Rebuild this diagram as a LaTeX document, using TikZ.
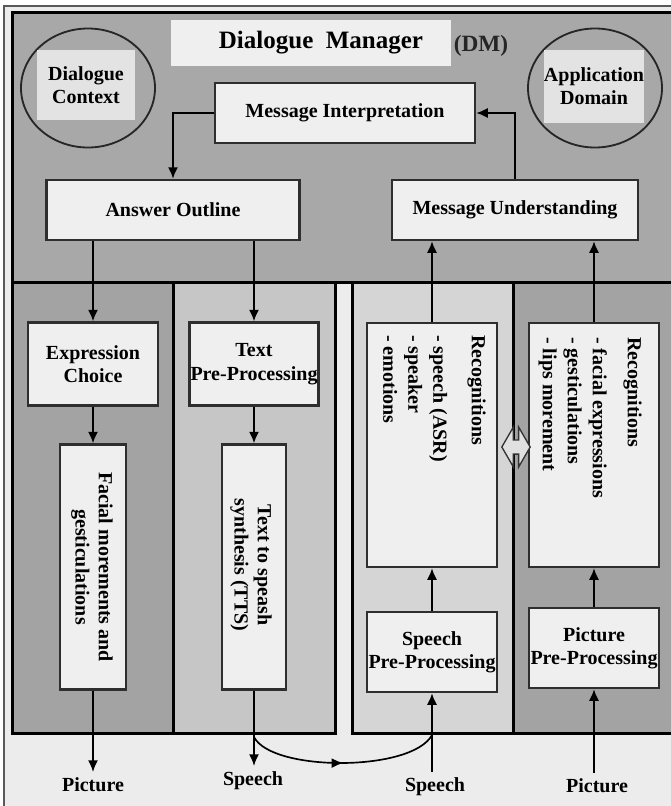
\documentclass[tikz,border=0pt]{standalone}
\usepackage{fontspec}
\setmainfont{Liberation Serif}
\usetikzlibrary{calc,positioning,shapes.geometric,shapes.arrows,decorations.markings,arrows.meta}
\definecolor{dmgray}{HTML}{A8A8A8}
\definecolor{lanedark}{HTML}{A3A3A3}
\definecolor{lanemid}{HTML}{C6C6C6}
\definecolor{lanelight}{HTML}{D5D5D5}
\definecolor{boxfill}{HTML}{EFEFEF}
\definecolor{stripfill}{HTML}{ECECEC}
\definecolor{edge}{HTML}{2E2E2E}

\begin{document}
\begin{tikzpicture}[x=0.6pt,y=-0.6pt,
    every node/.style={font=\fontsize{12}{14}\selectfont\bfseries},
    boxsize/.style 2 args={minimum width=#1*0.6pt,minimum height=#2*0.6pt},
    box/.style={draw=edge,line width=1.3pt,fill=boxfill,inner sep=0pt,align=center},
    vtext/.style={rotate=-90,inner sep=0pt},
    lane/.style={draw=black,line width=1.8pt},
    flow/.style={draw=black,line width=1.1pt,-{Latex[length=7pt,width=6pt]}},
    ring/.style={ellipse,draw=black!85,line width=1.1pt,fill=dmgray,inner sep=0pt},
    ringlabel/.style={fill=black!11,inner sep=0pt,align=center,font=\fontsize{12}{13.5}\selectfont\bfseries}]
  \fill[white] (0,0) rectangle (671,806);
  \useasboundingbox (0,0) rectangle (671,806);
  \clip (0,0) rectangle (671,806);

  % frame, manager area and the four lanes
  \filldraw[fill=stripfill,draw=black!65,line width=1pt] (4,6) rectangle (700,830);
  \filldraw[fill=dmgray,draw=black,line width=1.8pt] (12,12) rectangle (700,282);
  \filldraw[lane,fill=lanedark] (12,282) rectangle (173,733);
  \filldraw[lane,fill=lanemid] (173,282) rectangle (335,733);
  \filldraw[lane,fill=lanelight] (352,282) rectangle (513,733);
  \filldraw[lane,fill=lanedark] (513,282) rectangle (700,733);

  % Dialogue Manager
  \node[fill=boxfill,inner sep=0pt,boxsize={280}{46}] (dmbox) at (311,43) {};
  \node[font=\fontsize{15}{18}\selectfont\bfseries] (dmtitle) at (321,43) {Dialogue\ \ Manager};
  \node[font=\fontsize{14}{16}\selectfont\bfseries,text=black!85] (dmabbr) at (481,46) {(DM)};

  \node[ring,boxsize={134}{119}] (ctxring) at (88,88) {};
  \node[ringlabel,boxsize={98}{70}] (ctx) at (86,85) {Dialogue\\Context};
  \node[ring,boxsize={134}{119}] (domring) at (595,88) {};
  \node[ringlabel,boxsize={99}{73}] (dom) at (594,86) {Application\\Domain};

  \node[box,boxsize={260}{60}] (interp) at (345,113) {Message Interpretation};
  \node[box,boxsize={253}{60}] (answer) at (173,210) {Answer Outline};
  \node[box,boxsize={246}{60}] (underst) at (515,210) {Message Understanding};

  % output side
  \node[box,boxsize={130}{83}] (exprchoice) at (93,364) {Expression\\Choice};
  \node[box,boxsize={129}{83}] (textpre) at (254,364) {Text\\Pre-Processing};
  \node[box,boxsize={66}{245}] (facial) at (93,567) {};
  \node[vtext,align=center] (facialtext) at (92,567) {Facial morements and\\gesticulations};
  \node[box,boxsize={64}{245}] (tts) at (254,567) {};
  \node[vtext,align=center] (ttstext) at (251,565) {Text to speash\\synthesis (TTS)};

  % input side
  \node[box,boxsize={130}{244}] (recspeech) at (432,445) {};
  \node[vtext,anchor=north west,align=left,font=\fontsize{12}{15}\selectfont\bfseries]
    (recspeechtext) at (486,335) {Recognitions\\[8pt]- speech (ASR)\\- speaker\\- emotions};
  \node[box,boxsize={130}{244}] (recpicture) at (594,445) {};
  \node[vtext,anchor=north west,align=left,font=\fontsize{12}{15}\selectfont\bfseries]
    (recpicturetext) at (642,337) {Recognitions\\[6pt]- facial expressions\\- gesticulations\\- lips morement};
  \node[box,boxsize={130}{80}] (speechpre) at (432,652) {Speech\\Pre-Processing};
  \node[box,boxsize={130}{80}] (picturepre) at (594,648) {Picture\\Pre-Processing};
  \node[double arrow,draw=black!80,line width=0.8pt,fill=black!12,inner sep=3.5pt,
    minimum width=24pt,minimum height=17pt,double arrow tip angle=120] (exchange) at (516,447) {};

  \node (outpic) at (93,785) {Picture};
  \node (outspeech) at (253,781) {Speech};
  \node (inspeech) at (435,787) {Speech};
  \node (inpic) at (597,786) {Picture};

  % connectors
  \draw[flow] (interp.west) -| (answer.north);
  \draw[flow] (underst.north) |- (interp.east);
  \draw[flow] (answer.south -| exprchoice.north) -- (exprchoice.north);
  \draw[flow] (answer.south -| textpre.north) -- (textpre.north);
  \draw[flow] (exprchoice) -- (facial);
  \draw[flow] (textpre) -- (tts);
  \draw[flow] (facial) -- (outpic);
  \draw[flow] (tts.south) -- (tts.south |- outspeech.north);
  \draw[flow] (speechpre.south |- inspeech.north) -- (speechpre.south);
  \draw[flow] (speechpre) -- (recspeech);
  \draw[flow] (recspeech.north) -- (underst.south -| recspeech.north);
  \draw[flow] (picturepre.south |- inpic.north) -- (picturepre.south);
  \draw[flow] (picturepre) -- (recpicture);
  \draw[flow] (recpicture.north) -- (underst.south -| recpicture.north);

  \coordinate (ttstap) at (254,737);
  \coordinate (asrtap) at (432,735);
  \begin{scope}[decoration={markings,mark=at position 0.5 with {\arrow{Latex[length=7pt,width=6pt]}}}]
    \draw[line width=1pt,postaction={decorate}] (ttstap) .. controls (272,772) and (412,772) .. (asrtap);
  \end{scope}
\end{tikzpicture}
\end{document}
